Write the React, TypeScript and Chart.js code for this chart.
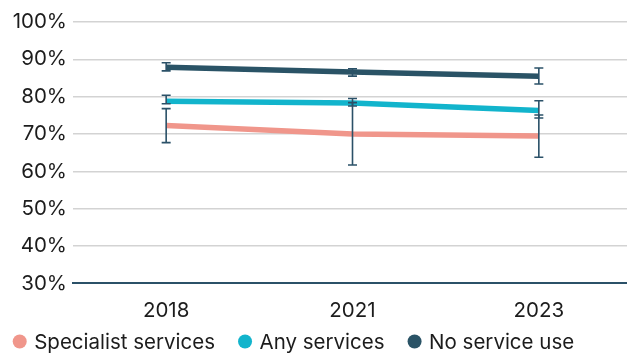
import React, { useEffect, useRef } from "react";
import { Chart, registerables } from "chart.js";

Chart.register(...registerables);

// Survey years on the x axis
const years = ["2018", "2021", "2023"];

// Share of respondents (%) with confidence interval bounds
const specialistServices = [72.3, 70.0, 69.5];
const specialistLow = [67.7, 61.7, 63.8];
const specialistHigh = [76.8, 78.4, 75.1];

const anyServices = [78.8, 78.3, 76.3];
const anyLow = [78.1, 77.5, 74.3];
const anyHigh = [80.4, 79.5, 78.9];

const noServiceUse = [87.9, 86.6, 85.5];
const noServiceLow = [86.9, 85.5, 83.4];
const noServiceHigh = [89.1, 87.5, 87.7];

const seriesLabels = ["Specialist services", "Any services", "No service use"];
const seriesColors = ["#f0968b", "#12b4cc", "#2a5366"];

const yTicks = [30, 40, 50, 60, 70, 80, 90, 100];

const FONT = "Inter, 'DejaVu Sans', sans-serif";
const TEXT_COLOR = "#1c1c1c";
const BAR_COLOR = "#2b5168";

// Vertical interval whiskers with caps, drawn over the lines
const errorBarPlugin = {
  id: "errorBars",
  afterDatasetsDraw(chart: any) {
    const ctx = chart.ctx;
    const x = chart.scales.x;
    const y = chart.scales.y;
    const bounds = [
      [specialistLow, specialistHigh],
      [anyLow, anyHigh],
      [noServiceLow, noServiceHigh],
    ];
    ctx.save();
    ctx.strokeStyle = BAR_COLOR;
    ctx.lineWidth = 1.6;
    const cap = 4.5;
    bounds.forEach(([lo, hi]) => {
      years.forEach((_, i) => {
        const px = x.getPixelForValue(i);
        const yLo = y.getPixelForValue(lo[i]);
        const yHi = y.getPixelForValue(hi[i]);
        ctx.beginPath();
        ctx.moveTo(px, yLo);
        ctx.lineTo(px, yHi);
        ctx.moveTo(px - cap, yLo);
        ctx.lineTo(px + cap, yLo);
        ctx.moveTo(px - cap, yHi);
        ctx.lineTo(px + cap, yHi);
        ctx.stroke();
      });
    });
    ctx.restore();
  },
};

// Left-aligned legend row with round markers along the bottom edge
const bottomLegendPlugin = {
  id: "bottomLegend",
  afterDraw(chart: any) {
    const ctx = chart.ctx;
    const cy = 341.5;
    let cx = 12.7;
    ctx.save();
    ctx.font = `20.5px ${FONT}`;
    ctx.textBaseline = "middle";
    ctx.textAlign = "left";
    chart.data.datasets.forEach((ds: any) => {
      const r = 7;
      ctx.fillStyle = ds.borderColor;
      ctx.beginPath();
      ctx.arc(cx + r, cy, r, 0, Math.PI * 2);
      ctx.fill();
      const tx = cx + 2 * r + 7.5;
      ctx.fillStyle = TEXT_COLOR;
      ctx.fillText(ds.label, tx, cy + 1);
      cx = tx + ctx.measureText(ds.label).width + 23;
    });
    ctx.restore();
  },
};

export default function App() {
  const canvasRef = useRef<HTMLCanvasElement | null>(null);

  useEffect(() => {
    if (!canvasRef.current) return;
    const seriesValues = [specialistServices, anyServices, noServiceUse];
    const chart = new Chart(canvasRef.current, {
      type: "line",
      data: {
        labels: years,
        datasets: seriesValues.map((values, i) => ({
          label: seriesLabels[i],
          data: values,
          borderColor: seriesColors[i],
          backgroundColor: seriesColors[i],
          borderWidth: 5.5,
          pointRadius: 0,
          pointHoverRadius: 0,
          tension: 0,
          fill: false,
        })),
      },
      options: {
        animation: false,
        responsive: false,
        maintainAspectRatio: false,
        layout: { padding: { top: 22, bottom: 16, left: 0, right: 0 } },
        plugins: {
          legend: { display: false },
          tooltip: { enabled: false },
        },
        scales: {
          x: {
            offset: true,
            grid: { display: false, drawTicks: false },
            border: { display: true, color: BAR_COLOR, width: 2 },
            ticks: {
              padding: 15,
              color: TEXT_COLOR,
              font: { family: FONT, size: 20.5 },
            },
          },
          y: {
            min: 30,
            max: 100,
            afterBuildTicks: (scale: any) => {
              scale.ticks = yTicks.map((v) => ({ value: v }));
            },
            afterFit: (scale: any) => {
              scale.width = 73;
            },
            grid: {
              drawTicks: false,
              color: (c: any) => (c.tick && c.tick.value === 30 ? "rgba(0,0,0,0)" : "#d3d3d3"),
              lineWidth: 1.5,
            },
            border: { display: false },
            ticks: {
              padding: 6,
              color: TEXT_COLOR,
              font: { family: FONT, size: 20.5 },
              callback: (v: any) => `${v}%`,
            },
          },
        },
      },
      plugins: [errorBarPlugin, bottomLegendPlugin],
    });
    return () => chart.destroy();
  }, []);

  return (
    <div
      style={{
        position: "fixed",
        left: 0,
        top: 0,
        width: 627,
        height: 354,
        overflow: "hidden",
        background: "#ffffff",
      }}
    >
      <canvas ref={canvasRef} width={632} height={354} style={{ display: "block" }} />
    </div>
  );
}
